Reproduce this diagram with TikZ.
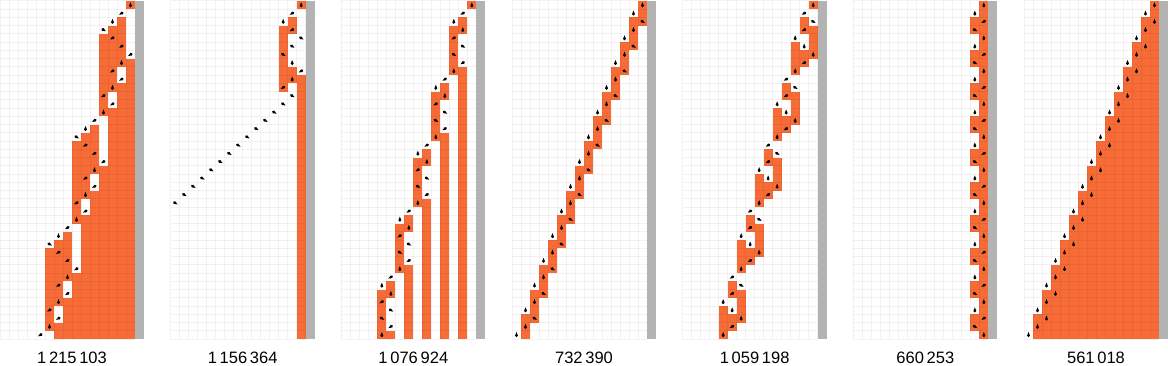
\documentclass[tikz,border=0pt]{standalone}
\usepackage{fontspec}
\setmainfont{Liberation Sans}

\definecolor{tmorange}{RGB}{246,107,54}
\definecolor{tmgray}{RGB}{179,179,179}

% head turn for the three states
\newcommand\rotA{0}
\newcommand\rotB{120}
\newcommand\rotC{240}

% rule table: state, read, new state, new colour, move
\newcommand\tmrule[5]{%
  \expandafter\xdef\csname ns#1#2\endcsname{#3}%
  \expandafter\xdef\csname nc#1#2\endcsname{#4}%
  \expandafter\xdef\csname nm#1#2\endcsname{#5}}
\newcommand\tmstep{%
  \edef\tmcur{\csname tc\tmpos\endcsname}%
  \edef\tmns{\csname ns\tmstate\tmcur\endcsname}%
  \edef\tmnc{\csname nc\tmstate\tmcur\endcsname}%
  \edef\tmnm{\csname nm\tmstate\tmcur\endcsname}%
  \expandafter\xdef\csname tc\tmpos\endcsname{\tmnc}%
  \xdef\tmpos{\the\numexpr\tmpos+(\tmnm)\relax}%
  \xdef\tmstate{\tmns}}

% one panel: index, rules, rule number
\newcommand\tmpanel[3]{%
  \begin{scope}[shift={(170.667*#1pt,365pt)},x=9pt,y=-8.244pt]
    \foreach \col in {-60,...,16} {\expandafter\xdef\csname tc\col\endcsname{0}}
    \expandafter\xdef\csname tc14\endcsname{1}
    \xdef\tmpos{14}\xdef\tmstate{A}
    \foreach \ka/\kb/\kc/\kd/\ke in {#2} {\tmrule{\ka}{\kb}{\kc}{\kd}{\ke}}
    \foreach \row in {0,...,40} {
      \foreach \col in {0,...,14} {
        \ifnum\csname tc\col\endcsname=1 \fill[cell] (\col,\row) rectangle ++(1,1);\fi}
      \ifnum\tmpos>-1\relax\ifnum\tmpos<15\relax
        \fill[head,shift={(\tmpos+0.5,\row+0.5)},x=1pt,y=1pt,rotate=\csname rot\tmstate\endcsname]
          (0,2.8) -- (1.5,-0.8) arc[start angle=0,end angle=-180,radius=1.5] -- cycle;
      \fi\fi
      \tmstep}
    \foreach \col in {0,...,15} \draw[gridline] (\col,0) -- (\col,41);
    \foreach \row in {0,...,41} \draw[gridline] (0,\row) -- (15,\row);
    \fill[tapeend] (15,0) rectangle (16,41);
    \node[rulenum] (num#1) at (8,44.03) {#3};
  \end{scope}}

\begin{document}
\begin{tikzpicture}
  [%%%%%%%%%%%%%%%%%%%%%%%%%%%%%%
  cell/.style={fill=tmorange},
  head/.style={fill=black},
  gridline/.style={draw=black,opacity=0.05,line width=1pt},
  tapeend/.style={fill=tmgray},
  rulenum/.style={anchor=base,inner sep=0pt,font=\fontsize{16.5}{18}\selectfont},
  ]%%%%%%%%%%%%%%%%%%%%%%%%%%%%%%

  \useasboundingbox (0,0) rectangle (1168pt,366pt);

  \tmpanel{0}{A/0/C/1/-1, A/1/B/0/-1, B/0/A/1/-1, B/1/B/1/1, C/0/B/1/1, C/1/A/1/-1}{1\,215\,103}
  \tmpanel{1}{A/0/B/1/1, A/1/B/0/-1, B/0/A/1/-1, B/1/C/0/1, C/0/C/0/-1, C/1/A/1/1}{1\,156\,364}
  \tmpanel{2}{A/0/A/1/1, A/1/B/0/-1, B/0/A/1/-1, B/1/C/1/1, C/0/C/0/-1, C/1/B/1/1}{1\,076\,924}
  \tmpanel{3}{A/0/C/1/1, A/1/A/1/-1, B/0/C/1/-1, B/1/A/1/1, C/0/B/1/-1, C/1/A/0/-1}{732\,390}
  \tmpanel{4}{A/0/A/1/1, A/1/B/0/-1, B/0/C/1/1, B/1/A/0/-1, C/0/B/1/-1, C/1/B/1/-1}{1\,059\,198}
  \tmpanel{5}{A/0/B/1/1, A/1/A/1/-1, B/0/A/0/1, B/1/C/1/-1, C/0/A/0/1, C/1/A/0/1}{660\,253}
  \tmpanel{6}{A/0/A/1/1, A/1/A/1/-1, B/0/B/1/1, B/1/A/0/-1, C/0/B/1/-1, C/1/C/1/1}{561\,018}
\end{tikzpicture}
\end{document}
